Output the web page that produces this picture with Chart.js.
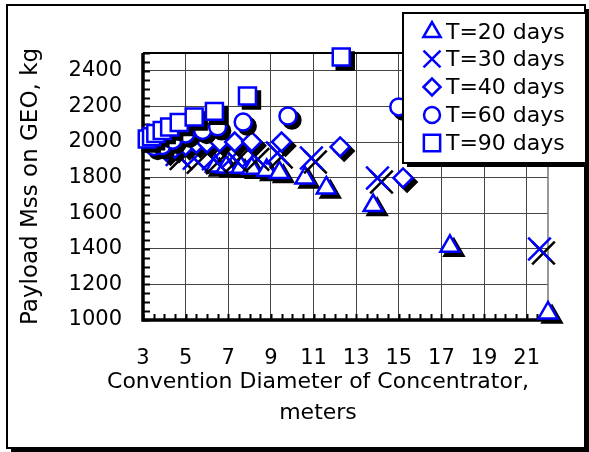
<!DOCTYPE html>
<html>
<head>
<meta charset="utf-8">
<script src="https://cdn.jsdelivr.net/npm/chart.js@4/dist/chart.umd.min.js"></script>
<style>
  html, body { margin: 0; padding: 0; background: #fff; }
  #wrap { width: 589px; height: 452px; position: relative; }
</style>
</head>
<body>
<div id="wrap"><canvas id="payload"></canvas></div>
<script>
// concentrator diameter, m  /  payload mass delivered to GEO, kg
const d20 = [6.4, 6.9, 7.6, 8.1, 8.8, 9.4, 10.6, 11.6, 13.8, 17.4, 22.0];
const m20 = [1865, 1860, 1858, 1852, 1840, 1828, 1798, 1742, 1643, 1414, 1040];

const d30 = [4.6, 5.4, 6.3, 7.2, 8.2, 9.3, 10.9, 14.0, 21.6];
const m30 = [1930, 1908, 1905, 1915, 1925, 1938, 1910, 1798, 1399];

const d40 = [4.1, 4.5, 5.0, 5.5, 6.0, 6.6, 7.3, 8.1, 9.5, 12.25, 15.2];
const m40 = [1950, 1965, 1980, 1992, 1995, 2000, 2000, 2002, 2000, 1972, 1798];

const d60 = [3.5, 3.9, 4.4, 5.0, 5.8, 6.5, 7.7, 9.8, 15.0];
const m60 = [1975, 1980, 2010, 2045, 2065, 2085, 2112, 2146, 2197];

const d90 = [3.2, 3.4, 3.6, 3.9, 4.25, 4.7, 5.4, 6.35, 7.9, 12.3];
const m90 = [2017, 2030, 2048, 2065, 2084, 2110, 2140, 2172, 2258, 2478];

const seriesLabels = ["T=20 days", "T=30 days", "T=40 days", "T=60 days", "T=90 days"];
const xTicks = [3, 5, 7, 9, 11, 13, 15, 17, 19, 21];
const yTicks = [1000, 1200, 1400, 1600, 1800, 2000, 2200, 2400];

const BLUE = "#0000ff";
const FONT = "'DejaVu Sans', sans-serif";

const styles = [
  { pointStyle: "triangle", radius: 11, legendRadius: 10 },
  { pointStyle: "crossRot", radius: 16, legendRadius: 12 },
  { pointStyle: "rectRot", radius: 9.5, legendRadius: 8.5 },
  { pointStyle: "circle", radius: 8.5, legendRadius: 8 },
  { pointStyle: "rect", radius: 12, legendRadius: 11.5 },
];

const xs = [d20, d30, d40, d60, d90];
const ys = [m20, m30, m40, m60, m90];

function points(dx, my) {
  return dx.map((d, i) => ({ x: d, y: my[i] }));
}

// each series gets a black copy drawn underneath, shifted down-right
const datasets = [];
let order = 20;
xs.forEach((dx, i) => {
  const st = styles[i];
  const base = {
    data: points(dx, ys[i]),
    pointStyle: st.pointStyle,
    pointRadius: st.radius,
    pointHoverRadius: st.radius,
    borderWidth: 2.5,
    showLine: false,
    clip: false,
  };
  datasets.push(Object.assign({}, base, {
    label: seriesLabels[i] + " shadow",
    shadow: true,
    borderColor: "#000",
    backgroundColor: "#000",
    pointBorderColor: "#000",
    pointBackgroundColor: "#000",
    order: order--,
  }));
  datasets.push(Object.assign({}, base, {
    label: seriesLabels[i],
    borderColor: BLUE,
    backgroundColor: "#fff",
    pointBorderColor: BLUE,
    pointBackgroundColor: "#fff",
    order: order--,
  }));
});

const shadowOffset = {
  id: "shadowOffset",
  beforeDatasetDraw(chart, args) {
    if (chart.data.datasets[args.index].shadow) {
      chart.ctx.save();
      chart.ctx.translate(4, 4);
    }
  },
  afterDatasetDraw(chart, args) {
    if (chart.data.datasets[args.index].shadow) chart.ctx.restore();
  },
};

// outer frame with drop shadow
const pageFrame = {
  id: "pageFrame",
  beforeDraw(chart) {
    const ctx = chart.ctx;
    ctx.save();
    ctx.fillStyle = "#fff";
    ctx.fillRect(0, 0, chart.width, chart.height);
    ctx.fillStyle = "#000";
    ctx.fillRect(11, 9, 578, 443);
    ctx.fillStyle = "#fff";
    ctx.fillRect(7, 5, 578, 443);
    ctx.strokeStyle = "#000";
    ctx.lineWidth = 2;
    ctx.strokeRect(7, 5, 578, 443);
    ctx.restore();
  },
};

// plot frame, inside tick marks (major + minor)
const plotFrame = {
  id: "plotFrame",
  beforeDatasetsDraw(chart) {
    const { ctx, chartArea: a, scales: { x, y } } = chart;
    ctx.save();
    ctx.strokeStyle = "#000";
    ctx.lineWidth = 2;
    ctx.beginPath();
    ctx.moveTo(a.left, a.top);
    ctx.lineTo(a.right, a.top);
    ctx.stroke();
    ctx.strokeStyle = "#777";
    ctx.lineWidth = 1.5;
    ctx.beginPath();
    ctx.moveTo(a.right, a.top);
    ctx.lineTo(a.right, a.bottom);
    ctx.stroke();

    ctx.strokeStyle = "#000";
    ctx.lineWidth = 2;
    ctx.beginPath();
    for (let v = 3; v <= 22.001; v += 0.5) {
      const px = Math.round(x.getPixelForValue(v)) + 0.5;
      ctx.moveTo(px, a.bottom);
      ctx.lineTo(px, a.bottom - 6);
    }
    for (let v = 1000; v <= 2500; v += 50) {
      const py = Math.round(y.getPixelForValue(v)) + 0.5;
      ctx.moveTo(a.left, py);
      ctx.lineTo(a.left + 7, py);
    }
    ctx.stroke();

    ctx.lineWidth = 3.5;
    ctx.beginPath();
    ctx.moveTo(a.left, a.top);
    ctx.lineTo(a.left, a.bottom);
    ctx.lineTo(a.right, a.bottom);
    ctx.stroke();
    ctx.restore();
  },
};

// boxed legend and two-line x title
const annotations = {
  id: "annotations",
  afterDraw(chart) {
    const ctx = chart.ctx;
    ctx.save();
    ctx.fillStyle = "#000";
    ctx.fillRect(407, 17, 183, 150);
    ctx.fillStyle = "#fff";
    ctx.fillRect(403, 13, 183, 150);
    ctx.strokeStyle = "#000";
    ctx.lineWidth = 2;
    ctx.strokeRect(403, 13, 183, 150);

    const rows = [32, 59, 87, 115, 143];
    ctx.font = "22px " + FONT;
    ctx.textBaseline = "middle";
    ctx.textAlign = "left";
    styles.forEach((st, i) => {
      ctx.strokeStyle = BLUE;
      ctx.fillStyle = "#fff";
      ctx.lineWidth = 2.5;
      Chart.helpers.drawPoint(ctx, { pointStyle: st.pointStyle, radius: st.legendRadius, rotation: 0, borderWidth: 2.5 }, 432, rows[i]);
      ctx.fillStyle = "#000";
      ctx.fillText(seriesLabels[i], 446, rows[i] + 1);
    });

    ctx.textAlign = "center";
    ctx.fillText("Convention Diameter of Concentrator,", 318, 382);
    ctx.fillText("meters", 318, 413);
    ctx.restore();
  },
};

new Chart(document.getElementById("payload"), {
  type: "scatter",
  data: { datasets },
  plugins: [pageFrame, plotFrame, shadowOffset, annotations],
  options: {
    responsive: true,
    maintainAspectRatio: false,
    animation: false,
    layout: { padding: { left: 0, top: 53, right: 41, bottom: 0 } },
    plugins: {
      legend: { display: false },
      tooltip: { enabled: false },
    },
    scales: {
      x: {
        type: "linear",
        min: 3,
        max: 22,
        afterBuildTicks: (s) => { s.ticks = xTicks.map((v) => ({ value: v })); },
        afterFit: (s) => { s.height = 132; },
        grid: { color: "#444", lineWidth: 1, drawTicks: false },
        border: { display: false },
        ticks: {
          padding: 26,
          color: "#000",
          font: { family: FONT, size: 21 },
          maxRotation: 0,
          autoSkip: false,
          callback: (v) => String(v),
        },
      },
      y: {
        type: "linear",
        min: 1000,
        max: 2500,
        afterBuildTicks: (s) => { s.ticks = yTicks.map((v) => ({ value: v })); },
        afterFit: (s) => { s.width = 143; },
        grid: { color: "#444", lineWidth: 1, drawTicks: false },
        border: { display: false },
        ticks: {
          padding: 21,
          color: "#000",
          font: { family: FONT, size: 21 },
          autoSkip: false,
          callback: (v) => String(v),
        },
        title: {
          display: true,
          text: "Payload Mss on GEO, kg",
          color: "#000",
          font: { family: FONT, size: 23 },
          padding: { top: 17, bottom: 0 },
        },
      },
    },
  },
});
</script>
</body>
</html>
